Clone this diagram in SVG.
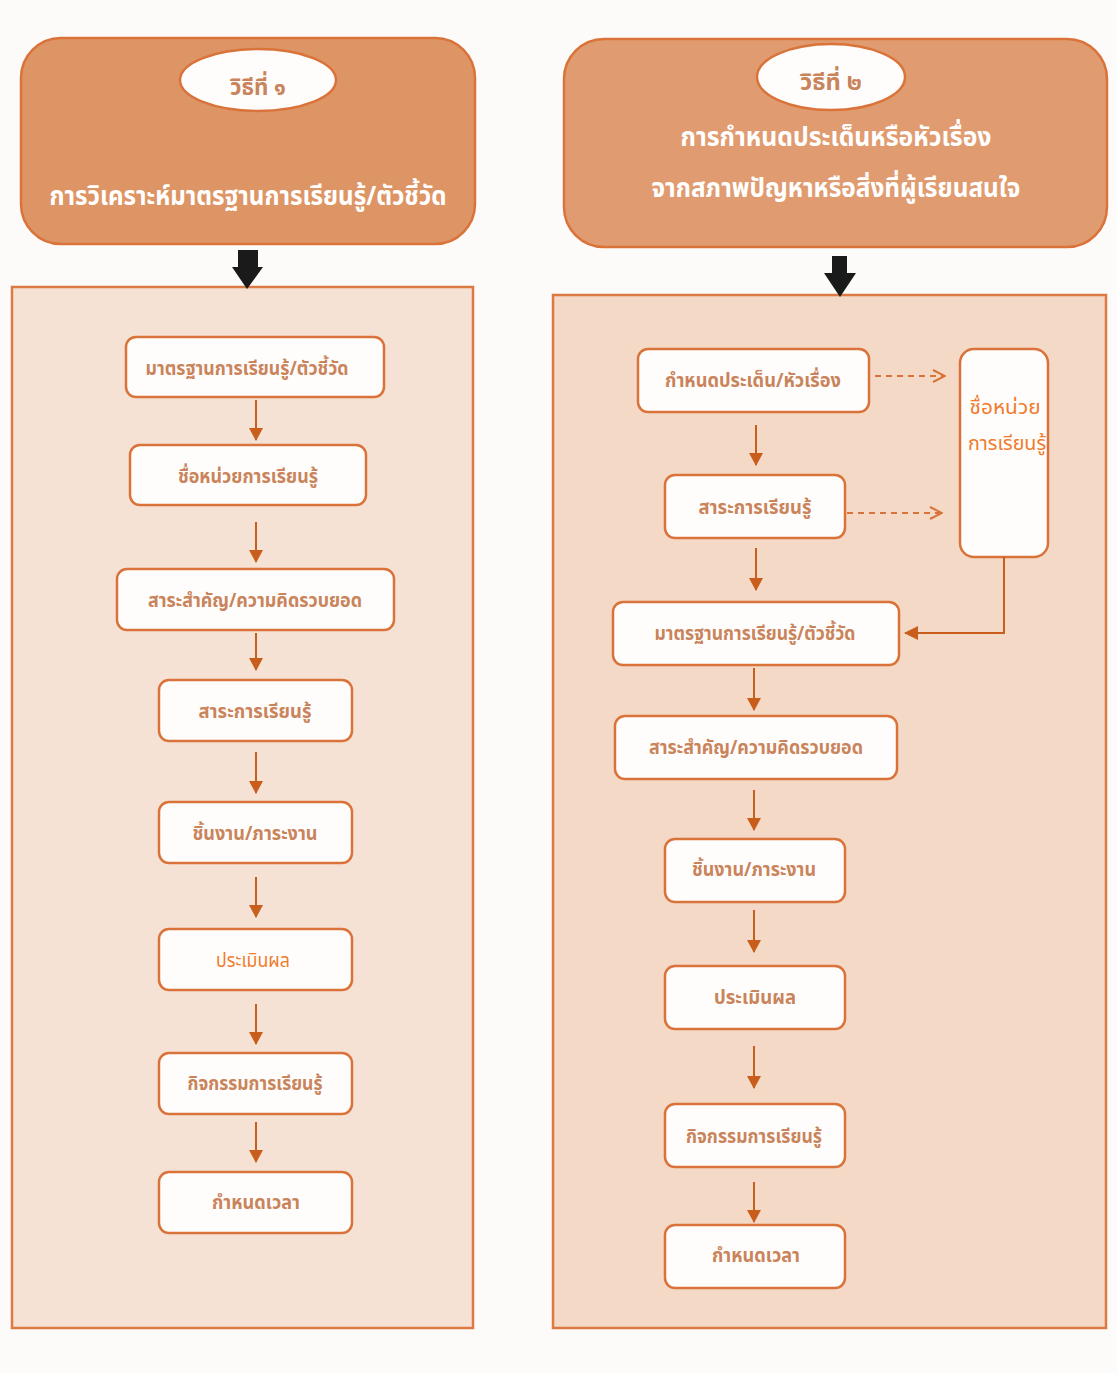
<svg xmlns="http://www.w3.org/2000/svg" width="1117" height="1373" viewBox="0 0 1117 1373">
<defs>
<style>
.hdr{stroke:#d9733a;stroke-width:2.5}
.panel{stroke:#dc7a42;stroke-width:2.5}
.box{fill:#fffdfc;stroke:#d9733a;stroke-width:2.5}
.oval{fill:#fffdfc;stroke:#d9733a;stroke-width:2.5}
.t{font-family:"Noto Sans Thai","Noto Sans","DejaVu Sans",sans-serif;text-anchor:middle;font-weight:bold;fill:#c9845b;font-size:19px}
.tl{font-family:"Noto Sans Thai","Noto Sans","DejaVu Sans",sans-serif;text-anchor:middle;fill:#f07b2c;font-size:19px}
.th{font-family:"Noto Sans Thai","Noto Sans","DejaVu Sans",sans-serif;text-anchor:middle;font-weight:bold;fill:#ffffff;font-size:26px}
.to{font-family:"Noto Sans Thai","Noto Sans","DejaVu Sans",sans-serif;text-anchor:middle;font-weight:bold;fill:#c9845b;font-size:23px}
.c{stroke:#c95d1c;stroke-width:2;fill:none}
.d{stroke:#d9733a;stroke-width:2;fill:none;stroke-dasharray:6 5}
</style>
<marker id="ah" markerWidth="13" markerHeight="14" refX="12" refY="7" orient="auto" markerUnits="userSpaceOnUse">
<path d="M0,0 L13,7 L0,14 Z" fill="#c95d1c"/>
</marker>
<marker id="ahL" markerWidth="14" markerHeight="14" refX="13" refY="7" orient="auto" markerUnits="userSpaceOnUse">
<path d="M0,0 L14,7 L0,14 Z" fill="#c95d1c"/>
</marker>
<marker id="ao" markerWidth="14" markerHeight="14" refX="13" refY="7" orient="auto" markerUnits="userSpaceOnUse">
<path d="M1,1 L13,7 L1,13" fill="none" stroke="#d9733a" stroke-width="2"/>
</marker>
</defs>
<rect width="1117" height="1373" fill="#fdfbfa"/>

<g id="header1">
<rect class="hdr" x="21" y="38" width="454" height="206" rx="40" fill="#de9566"/>
<ellipse class="oval" cx="258" cy="80" rx="78" ry="31"/>
<text class="to" x="258" y="95" textLength="56" lengthAdjust="spacingAndGlyphs">วิธีที่ ๑</text>
<text class="th" x="248" y="205" textLength="397" lengthAdjust="spacingAndGlyphs">การวิเคราะห์มาตรฐานการเรียนรู้/ตัวชี้วัด</text>
</g>
<g id="header2">
<rect class="hdr" x="564" y="39" width="543" height="208" rx="40" fill="#e09c70"/>
<ellipse class="oval" cx="831" cy="77" rx="74" ry="33"/>
<text class="to" x="831" y="90" textLength="62" lengthAdjust="spacingAndGlyphs">วิธีที่ ๒</text>
<text class="th" x="836" y="146" textLength="311" lengthAdjust="spacingAndGlyphs">การกำหนดประเด็นหรือหัวเรื่อง</text>
<text class="th" x="836" y="197" textLength="369" lengthAdjust="spacingAndGlyphs">จากสภาพปัญหาหรือสิ่งที่ผู้เรียนสนใจ</text>
</g>

<g id="panel1"><rect class="panel" x="12" y="287" width="461" height="1041" fill="#f5e2d4"/></g>
<g id="panel2"><rect class="panel" x="553" y="295" width="553" height="1033" fill="#f3d9c6"/></g>

<g id="bigArrows">
<path d="M238,250 L258,250 L258,267 L263,267 L247,289 L232,267 L238,267 Z" fill="#1a1a1a"/>
<path d="M832,256 L847,256 L847,273 L856,273 L840,297 L824,273 L832,273 Z" fill="#1a1a1a"/>
</g>

<g id="L1"><rect class="box" x="126" y="337" width="258" height="60" rx="10"/><text class="t" x="247" y="375" textLength="203" lengthAdjust="spacingAndGlyphs">มาตรฐานการเรียนรู้/ตัวชี้วัด</text></g>
<g id="L2"><rect class="box" x="130" y="445" width="236" height="60" rx="10"/><text class="t" x="248" y="483" textLength="140" lengthAdjust="spacingAndGlyphs">ชื่อหน่วยการเรียนรู้</text></g>
<g id="L3"><rect class="box" x="117" y="569" width="277" height="61" rx="10"/><text class="t" x="255" y="607" textLength="214" lengthAdjust="spacingAndGlyphs">สาระสำคัญ/ความคิดรวบยอด</text></g>
<g id="L4"><rect class="box" x="159" y="680" width="193" height="61" rx="10"/><text class="t" x="255" y="718" textLength="113" lengthAdjust="spacingAndGlyphs">สาระการเรียนรู้</text></g>
<g id="L5"><rect class="box" x="159" y="802" width="193" height="61" rx="10"/><text class="t" x="255" y="840" textLength="125" lengthAdjust="spacingAndGlyphs">ชิ้นงาน/ภาระงาน</text></g>
<g id="L6"><rect class="box" x="159" y="929" width="193" height="61" rx="10"/><text class="tl" x="253" y="967" textLength="74" lengthAdjust="spacingAndGlyphs">ประเมินผล</text></g>
<g id="L7"><rect class="box" x="159" y="1053" width="193" height="61" rx="10"/><text class="t" x="255" y="1090" textLength="135" lengthAdjust="spacingAndGlyphs">กิจกรรมการเรียนรู้</text></g>
<g id="L8"><rect class="box" x="159" y="1172" width="193" height="61" rx="10"/><text class="t" x="256" y="1209" textLength="88" lengthAdjust="spacingAndGlyphs">กำหนดเวลา</text></g>

<g id="R1"><rect class="box" x="638" y="349" width="231" height="63" rx="10"/><text class="t" x="753" y="387" textLength="176" lengthAdjust="spacingAndGlyphs">กำหนดประเด็น/หัวเรื่อง</text></g>
<g id="R2"><rect class="box" x="665" y="475" width="180" height="63" rx="10"/><text class="t" x="755" y="514" textLength="113" lengthAdjust="spacingAndGlyphs">สาระการเรียนรู้</text></g>
<g id="R3"><rect class="box" x="613" y="602" width="286" height="63" rx="10"/><text class="t" x="755" y="640" textLength="201" lengthAdjust="spacingAndGlyphs">มาตรฐานการเรียนรู้/ตัวชี้วัด</text></g>
<g id="R4"><rect class="box" x="615" y="716" width="282" height="63" rx="10"/><text class="t" x="756" y="754" textLength="214" lengthAdjust="spacingAndGlyphs">สาระสำคัญ/ความคิดรวบยอด</text></g>
<g id="R5"><rect class="box" x="665" y="839" width="180" height="63" rx="10"/><text class="t" x="754" y="876" textLength="124" lengthAdjust="spacingAndGlyphs">ชิ้นงาน/ภาระงาน</text></g>
<g id="R6"><rect class="box" x="665" y="966" width="180" height="63" rx="10"/><text class="t" x="755" y="1004" textLength="82" lengthAdjust="spacingAndGlyphs">ประเมินผล</text></g>
<g id="R7"><rect class="box" x="665" y="1104" width="180" height="63" rx="10"/><text class="t" x="754" y="1143" textLength="136" lengthAdjust="spacingAndGlyphs">กิจกรรมการเรียนรู้</text></g>
<g id="R8"><rect class="box" x="665" y="1225" width="180" height="63" rx="10"/><text class="t" x="756" y="1262" textLength="88" lengthAdjust="spacingAndGlyphs">กำหนดเวลา</text></g>
<g id="R9"><rect class="box" x="960" y="349" width="88" height="208" rx="14"/><text class="tl" x="1005" y="414" textLength="71" lengthAdjust="spacingAndGlyphs">ชื่อหน่วย</text><text class="tl" x="1007" y="450" textLength="78" lengthAdjust="spacingAndGlyphs">การเรียนรู้</text></g>

<g id="connectors">
<line class="c" x1="256" y1="400" x2="256" y2="440" marker-end="url(#ah)"/>
<line class="c" x1="256" y1="522" x2="256" y2="562" marker-end="url(#ah)"/>
<line class="c" x1="256" y1="633" x2="256" y2="670" marker-end="url(#ah)"/>
<line class="c" x1="256" y1="752" x2="256" y2="793" marker-end="url(#ah)"/>
<line class="c" x1="256" y1="877" x2="256" y2="917" marker-end="url(#ah)"/>
<line class="c" x1="256" y1="1004" x2="256" y2="1044" marker-end="url(#ah)"/>
<line class="c" x1="256" y1="1122" x2="256" y2="1162" marker-end="url(#ah)"/>
<line class="c" x1="756" y1="425" x2="756" y2="465" marker-end="url(#ah)"/>
<line class="c" x1="756" y1="548" x2="756" y2="590" marker-end="url(#ah)"/>
<line class="c" x1="754" y1="668" x2="754" y2="710" marker-end="url(#ah)"/>
<line class="c" x1="754" y1="790" x2="754" y2="830" marker-end="url(#ah)"/>
<line class="c" x1="754" y1="910" x2="754" y2="952" marker-end="url(#ah)"/>
<line class="c" x1="754" y1="1046" x2="754" y2="1088" marker-end="url(#ah)"/>
<line class="c" x1="754" y1="1182" x2="754" y2="1222" marker-end="url(#ah)"/>
<line class="d" x1="875" y1="376" x2="945" y2="376" marker-end="url(#ao)"/>
<line class="d" x1="847" y1="513" x2="942" y2="513" marker-end="url(#ao)"/>
<polyline class="c" points="1004,557 1004,633 905,633" marker-end="url(#ahL)"/>
</g>
</svg>
